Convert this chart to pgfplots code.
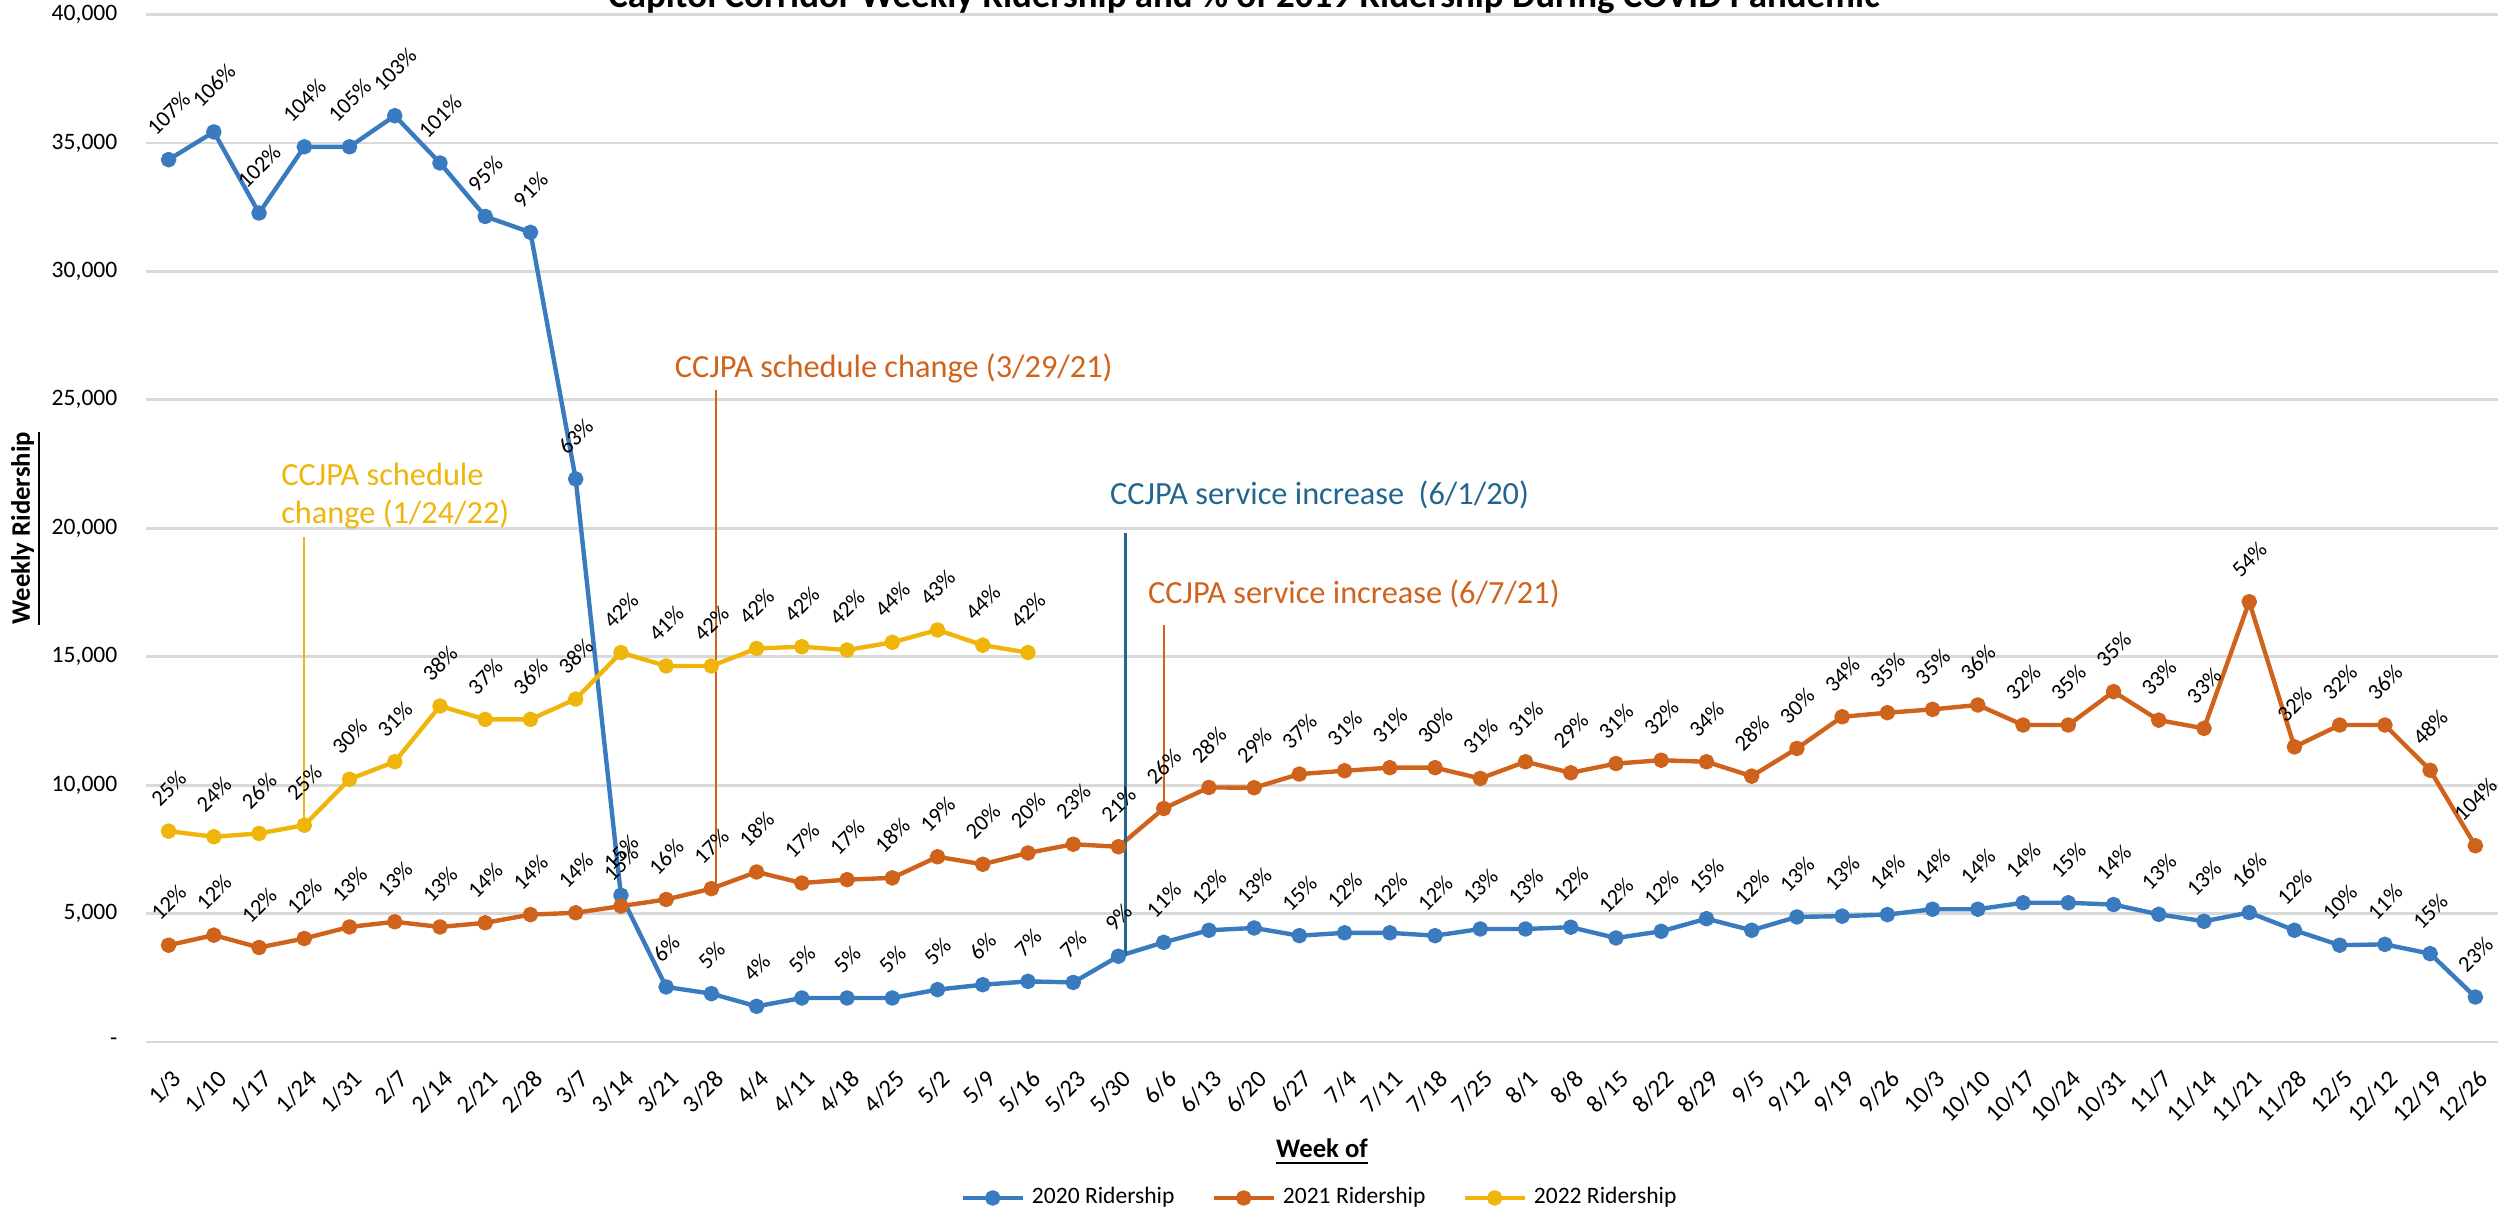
\documentclass[border=0pt]{standalone}
\usepackage{fontspec}
\setmainfont{Carlito}
\usepackage{graphicx}
\usepackage{pgfplots}
\usepackage{pgfplotstable}
\pgfplotsset{compat=1.18}

\definecolor{sblue}{HTML}{3A7BC0}
\definecolor{sorange}{HTML}{D0631C}
\definecolor{syellow}{HTML}{F0B50A}
\definecolor{ablue}{HTML}{22668F}
\definecolor{gridgray}{HTML}{D9D9D9}

\newcommand{\tickfont}{\fontsize{6.7}{8}\selectfont}
\newcommand{\xtickfont}{\fontsize{7}{8.4}\selectfont}
\newcommand{\datafont}{\fontsize{6.4}{7.6}\selectfont}
\newcommand{\annfont}{\fontsize{9.2}{10.8}\selectfont}
\newcommand{\labfont}{\fontsize{7.6}{9}\selectfont\bfseries}
\newcommand{\titlefont}{\fontsize{10.5}{12}\selectfont\bfseries}

\pgfplotstableread{
x y p
0 34350 107
1 35430 106
2 32270 102
3 34850 104
4 34850 105
5 36060 103
6 34220 101
7 32140 95
8 31520 91
9 21920 63
10 5714 15
11 2143 6
12 1883 5
13 1390 4
14 1714 5
15 1714 5
16 1714 5
17 2040 5
18 2230 6
19 2360 7
20 2320 7
21 3340 9
22 3880 11
23 4350 12
24 4440 13
25 4140 15
26 4250 12
27 4250 12
28 4140 12
29 4400 13
30 4400 13
31 4470 12
32 4050 12
33 4310 12
34 4800 15
35 4350 12
36 4870 13
37 4900 13
38 4960 14
39 5170 14
40 5170 14
41 5420 14
42 5420 15
43 5350 14
44 4970 13
45 4700 13
46 5040 16
47 4350 12
48 3770 10
49 3800 11
50 3440 15
51 1750 23
}\tabA

\pgfplotstableread{
x y p
0 3770 12
1 4160 12
2 3680 12
3 4030 12
4 4480 13
5 4680 13
6 4480 13
7 4640 14
8 4960 14
9 5030 14
10 5290 15
11 5550 16
12 5970 17
13 6620 18
14 6190 17
15 6320 17
16 6390 18
17 7210 19
18 6920 20
19 7360 20
20 7700 23
21 7600 21
22 9090 26
23 9910 28
24 9900 29
25 10430 37
26 10560 31
27 10680 31
28 10680 30
29 10260 31
30 10910 31
31 10480 29
32 10840 31
33 10970 32
34 10910 34
35 10350 28
36 11430 30
37 12660 34
38 12820 35
39 12950 35
40 13120 36
41 12340 32
42 12340 35
43 13640 35
44 12530 33
45 12210 33
46 17140 54
47 11490 32
48 12340 32
49 12340 36
50 10580 48
51 7640 104
}\tabB

\pgfplotstableread{
x y p
0 8210 25
1 7990 24
2 8120 26
3 8440 25
4 10230 30
5 10910 31
6 13080 38
7 12560 37
8 12560 36
9 13350 38
10 15160 42
11 14640 41
12 14640 42
13 15320 42
14 15390 42
15 15260 42
16 15560 44
17 16040 43
18 15450 44
19 15160 42
}\tabC

\begin{document}
\begin{tikzpicture}
\begin{axis}[
  scale only axis,
  width=23.52cm, height=10.275cm,
  xmin=-0.5, xmax=51.5, ymin=0, ymax=40000,
  clip=false,
  axis line style={draw=none},
  ymajorgrids, grid style={gridgray, line width=0.8pt},
  major tick length=0pt,
  xtick={0,...,51},
  xticklabels={1/3,1/10,1/17,1/24,1/31,2/7,2/14,2/21,2/28,3/7,3/14,3/21,3/28,4/4,4/11,4/18,4/25,5/2,5/9,5/16,5/23,5/30,6/6,6/13,6/20,6/27,7/4,7/11,7/18,7/25,8/1,8/8,8/15,8/22,8/29,9/5,9/12,9/19,9/26,10/3,10/10,10/17,10/24,10/31,11/7,11/14,11/21,11/28,12/5,12/12,12/19,12/26},
  xticklabel style={xshift=0.09cm, yshift=-0.33cm, rotate=45, anchor=east, inner sep=0pt, font=\xtickfont},
  ytick={0,5000,...,40000},
  yticklabels={{-\hspace{0.12cm}},{5,000},{10,000},{15,000},{20,000},{25,000},{30,000},{35,000},{40,000}},
  yticklabel style={xshift=-0.28cm, anchor=east, inner sep=0pt, font=\tickfont},
  xlabel={\underline{Week of}},
  xlabel style={at={(axis description cs:0.5,-0.107)}, anchor=center, font=\labfont},
  ylabel={\underline{Weekly Ridership}},
  ylabel style={at={(axis description cs:-0.051,0.5)}, anchor=center, font=\labfont},
  legend style={at={(0.5,-0.1518)}, anchor=center, draw=none, fill=none, font=\tickfont,
    legend columns=3, /tikz/every even column/.append style={column sep=0.3cm}},
  legend cell align=left,
  every axis plot/.append style={line width=1.25pt, line join=round, mark=*, mark size=1.6pt,
    nodes near coords={\rotatebox{45}{\pgfplotspointmeta\%}}, point meta=explicit symbolic,
    every node near coord/.append style={anchor=south, inner sep=0pt, yshift=0.21cm, font=\datafont, text=black}},
]
\addplot[color=sblue, mark options={solid, fill=sblue}] table[x=x, y=y, meta=p] {\tabA};
\addlegendentry{2020 Ridership}
\addplot[color=sorange, mark options={solid, fill=sorange}] table[x=x, y=y, meta=p] {\tabB};
\addlegendentry{2021 Ridership}
\addplot[color=syellow, mark options={solid, fill=syellow}] table[x=x, y=y, meta=p] {\tabC};
\addlegendentry{2022 Ridership}

\draw[syellow, line width=0.6pt] (axis cs:3,19660) -- (axis cs:3,8440);
\node[anchor=west, align=left, inner sep=0pt, text=syellow, font=\annfont] at (axis cs:2.476,21255) {CCJPA schedule\\change (1/24/22)};
\draw[sorange, line width=0.6pt] (axis cs:12.1,25380) -- (axis cs:12.1,5970);
\node[anchor=west, inner sep=0pt, text=sorange, font=\annfont] at (axis cs:11.18,26238) {CCJPA schedule change (3/29/21)};
\draw[ablue, line width=0.8pt] (axis cs:21.15,19810) -- (axis cs:21.15,3340);
\node[anchor=west, inner sep=0pt, text=ablue, font=\annfont] at (axis cs:20.80,21294) {CCJPA service increase~~(6/1/20)};
\draw[sorange, line width=0.6pt] (axis cs:22,16230) -- (axis cs:22,9090);
\node[anchor=west, inner sep=0pt, text=sorange, font=\annfont] at (axis cs:21.64,17440) {CCJPA service increase (6/7/21)};

\node[anchor=base, font=\titlefont] at (axis description cs:0.4668,1.0073) {Capitol Corridor Weekly Ridership and \% of 2019 Ridership During COVID Pandemic};
\end{axis}
\pgfresetboundingbox
\path[use as bounding box] (-1.46cm,-1.69cm) rectangle (23.58cm,10.42cm);
\end{tikzpicture}
\end{document}
